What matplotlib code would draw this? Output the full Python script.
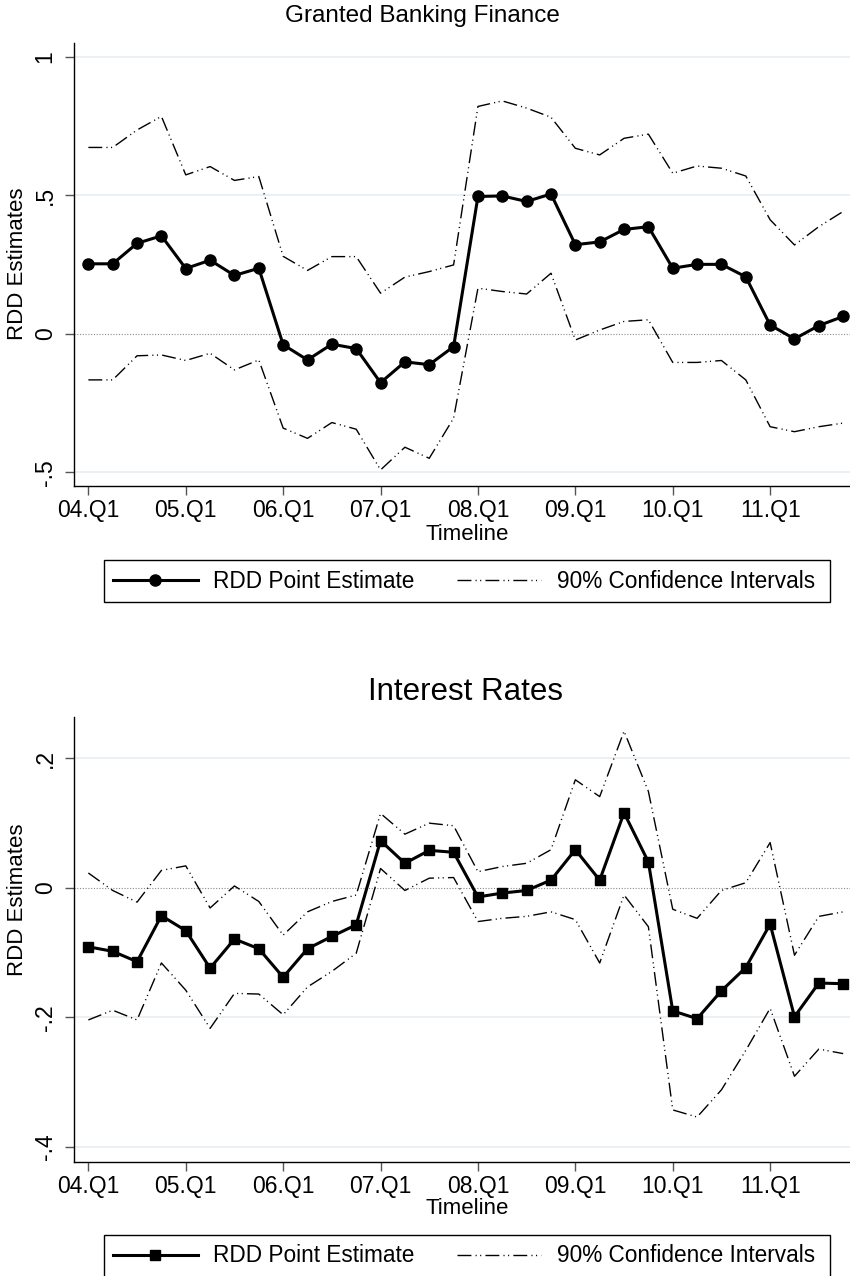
import matplotlib
matplotlib.use("Agg")
import matplotlib.pyplot as plt
from matplotlib.patches import Rectangle

plt.rcParams['font.family'] = ['Liberation Sans', 'DejaVu Sans']

# quarters 04.Q1 .. 11.Q4
quarters = list(range(32))
xtick_pos = [0, 4, 8, 12, 16, 20, 24, 28]
xtick_labels = ['04.Q1', '05.Q1', '06.Q1', '07.Q1', '08.Q1', '09.Q1', '10.Q1', '11.Q1']

# Granted Banking Finance
bank_est = [0.253, 0.253, 0.327, 0.354, 0.236, 0.266, 0.211, 0.237,
            -0.039, -0.094, -0.037, -0.053, -0.176, -0.101, -0.111, -0.046,
            0.496, 0.498, 0.478, 0.505, 0.322, 0.332, 0.377, 0.387,
            0.237, 0.251, 0.251, 0.206, 0.032, -0.018, 0.030, 0.063]
bank_hi = [0.673, 0.673, 0.736, 0.785, 0.574, 0.604, 0.554, 0.568,
           0.280, 0.229, 0.279, 0.279, 0.147, 0.205, 0.225, 0.249,
           0.821, 0.841, 0.815, 0.782, 0.670, 0.646, 0.706, 0.721,
           0.580, 0.606, 0.598, 0.570, 0.412, 0.321, 0.387, 0.442]
bank_lo = [-0.166, -0.166, -0.079, -0.076, -0.096, -0.070, -0.130, -0.094,
           -0.340, -0.377, -0.320, -0.344, -0.491, -0.409, -0.449, -0.304,
           0.165, 0.153, 0.144, 0.219, -0.022, 0.014, 0.045, 0.051,
           -0.103, -0.103, -0.096, -0.166, -0.335, -0.353, -0.335, -0.322]

# Interest Rates
rate_est = [-0.091, -0.098, -0.114, -0.043, -0.066, -0.124, -0.079, -0.094,
            -0.138, -0.094, -0.075, -0.057, 0.073, 0.038, 0.058, 0.055,
            -0.014, -0.008, -0.004, 0.012, 0.059, 0.012, 0.116, 0.040,
            -0.190, -0.202, -0.159, -0.123, -0.056, -0.199, -0.147, -0.148]
rate_hi = [0.023, -0.004, -0.022, 0.027, 0.034, -0.031, 0.003, -0.021,
           -0.073, -0.037, -0.021, -0.011, 0.115, 0.083, 0.100, 0.096,
           0.025, 0.033, 0.038, 0.059, 0.167, 0.141, 0.242, 0.149,
           -0.033, -0.047, -0.004, 0.008, 0.070, -0.104, -0.044, -0.037]
rate_lo = [-0.204, -0.189, -0.204, -0.116, -0.158, -0.217, -0.163, -0.164,
           -0.196, -0.153, -0.129, -0.101, 0.030, -0.004, 0.015, 0.016,
           -0.052, -0.047, -0.044, -0.037, -0.049, -0.116, -0.011, -0.060,
           -0.343, -0.354, -0.312, -0.251, -0.186, -0.291, -0.249, -0.256]

W, H = 850, 1276
fig = plt.figure(figsize=(8.5, 12.76), dpi=100)

ci_dash = (10, 3, 0.8, 2.5, 0.8, 3)
FS = 16


def panel(box, est, hi, lo, marker, yticks, ylabels, ylim, title, title_xy, title_fs,
          ylab_y, tl_y, leg_top):
    ax = fig.add_axes(box)
    ax.set_xlim(-0.59, 31.28)
    ax.set_ylim(*ylim)
    for yv in yticks:
        if yv != 0:
            ax.axhline(yv, color='#e6eef1', lw=1.2, zorder=0)
    ax.axhline(0, color='#8a8a8a', lw=0.8, ls=(0, (1, 1.5)), zorder=1)
    l_hi, = ax.plot(quarters, hi, color='black', lw=1.0, dashes=ci_dash)
    ax.plot(quarters, lo, color='black', lw=1.0, dashes=ci_dash)
    l_est, = ax.plot(quarters, est, color='black', lw=2.2, marker=marker,
                     markersize=8 if marker == 'o' else 7.5)
    for s in ['top', 'right']:
        ax.spines[s].set_visible(False)
    for s in ['left', 'bottom']:
        ax.spines[s].set_linewidth(1.0)
    ax.set_xticks(xtick_pos)
    ax.set_xticklabels(xtick_labels, fontsize=16.5)
    ax.set_yticks(yticks)
    ax.set_yticklabels(ylabels, fontsize=16.5, rotation=90, va='center')
    ax.tick_params(axis='both', length=6.5, width=1.0, color='#555555')
    ax.tick_params(axis='x', pad=3)
    ax.tick_params(axis='y', pad=6)
    fig.text(title_xy[0] / W, 1 - title_xy[1] / H, title, fontsize=title_fs,
             ha='center', va='center')
    fig.text(18 / W, 1 - ylab_y / H, 'RDD Estimates', fontsize=FS,
             rotation=90, ha='center', va='center')
    fig.text(467 / W, 1 - tl_y / H, 'Timeline', fontsize=FS,
             ha='center', va='center')
    # legend box drawn as a figure patch
    fig.patches.append(Rectangle((104 / W, 1 - (leg_top + 42) / H), 726 / W, 42 / H,
                                 transform=fig.transFigure, fill=False,
                                 edgecolor='black', lw=1.0))
    fig.legend([l_est, l_hi], ['RDD Point Estimate', '90% Confidence Intervals'],
               loc='center left', bbox_to_anchor=(113 / W, 1 - (leg_top + 21) / H),
               ncol=2, fontsize=16.3, frameon=False, handlelength=3.75,
               handletextpad=0.68, columnspacing=1.85, borderpad=0,
               borderaxespad=0)
    return ax


panel([74 / W, 1 - 486 / H, 1 - 74 / W, 443 / H], bank_est, bank_hi, bank_lo, 'o',
      [-0.5, 0, 0.5, 1], ['-.5', '0', '.5', '1'], (-0.549, 1.05),
      'Granted Banking Finance', (422, 16), 17.5, 264, 534, 560)

panel([74 / W, 1 - 1161.7 / H, 1 - 74 / W, 444.7 / H], rate_est, rate_hi, rate_lo, 's',
      [-0.4, -0.2, 0, 0.2], ['-.4', '-.2', '0', '.2'], (-0.423, 0.264),
      'Interest Rates', (466, 692), 22.5, 900, 1208, 1235)

fig.savefig('out.png', dpi=100)
